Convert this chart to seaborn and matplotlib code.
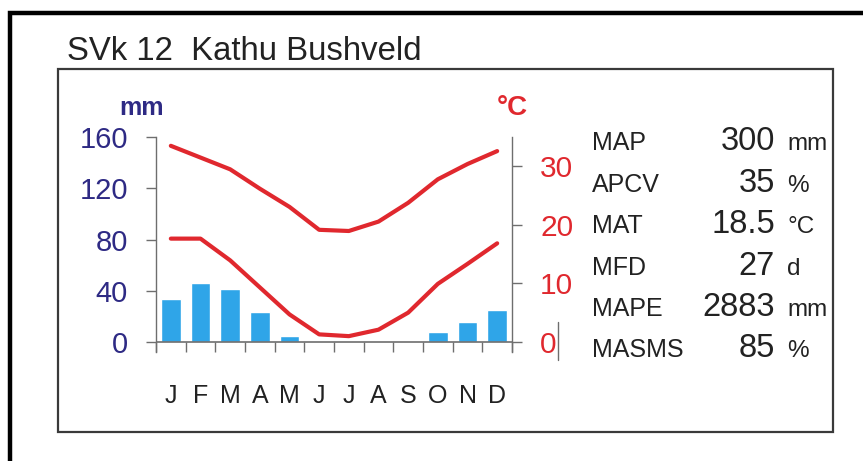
import numpy as np
import seaborn as sns
import matplotlib.pyplot as plt
from matplotlib.patches import Rectangle
from matplotlib.lines import Line2D

# climate data
months = ['J', 'F', 'M', 'A', 'M', 'J', 'J', 'A', 'S', 'O', 'N', 'D']
precip_mm = [33.3, 46.4, 41.7, 23.1, 4.5, 0, 0, 0, 0, 7.6, 15.7, 24.7]
tmax_c = [33.4, 31.4, 29.4, 26.1, 23.0, 19.1, 18.9, 20.5, 23.7, 27.7, 30.3, 32.5]
tmin_c = [17.6, 17.6, 13.9, 9.3, 4.7, 1.3, 1.0, 2.1, 5.0, 9.9, 13.3, 16.8]

mm_ticks = [0, 40, 80, 120, 160]
c_ticks = [0, 10, 20, 30]

stat_names = ['MAP', 'APCV', 'MAT', 'MFD', 'MAPE', 'MASMS']
stat_values = ['300', '35', '18.5', '27', '2883', '85']
stat_units = ['mm', '%', '°C', 'd', 'mm', '%']

title = 'SVk 12  Kathu Bushveld'

BLUE = '#2fa5e8'
RED = '#e0282e'
NAVY = '#2e2a84'
GRAY = '#6e6e6e'

W, H = 863, 461

sns.set_style('white')
plt.rcParams['font.family'] = ['Liberation Sans', 'DejaVu Sans']


def fx(x):
    return x / W


def fy(y):
    return 1 - y / H


fig = plt.figure(figsize=(W / 100, H / 100), dpi=100)

ax = fig.add_axes([fx(156), fy(352), (512 - 156) / W, (352 - 137) / H])
x = np.arange(len(months))
sns.barplot(x=x, y=precip_mm, native_scale=True, color=BLUE, saturation=1,
            width=0.67, ax=ax, zorder=2)
ax.axhline(0, color=GRAY, lw=1.2, zorder=3)
ax.set_xlim(-0.5, 11.5)
ax.set_ylim(-7.8, 160)
ax.set_yticks(mm_ticks)
ax.set_yticklabels([str(t) for t in mm_ticks])
ax.tick_params(axis='y', left=True, length=7.2, width=1, color=GRAY,
               labelcolor=NAVY, labelsize=21, pad=13)
ax.set_xticks(np.arange(-0.5, 12, 1))
ax.set_xticklabels([])
ax.set_xticks(x, minor=True)
ax.set_xticklabels(months, minor=True)
ax.tick_params(axis='x', which='major', bottom=True, direction='in',
               length=7.2, width=1, color=GRAY)
ax.tick_params(axis='x', which='minor', bottom=True, length=0, pad=23,
               labelsize=18, labelcolor='#222222')
for side in ['top', 'right', 'bottom']:
    ax.spines[side].set_visible(False)
ax.spines['left'].set_color(GRAY)
ax.spines['left'].set_linewidth(1)
ax.set_xlabel('')
ax.set_ylabel('')

ax2 = ax.twinx()
sns.lineplot(x=x, y=tmax_c, color=RED, linewidth=3, ax=ax2)
sns.lineplot(x=x, y=tmin_c, color=RED, linewidth=3, ax=ax2)
ax2.set_ylim(-1.7, 34.9)
ax2.set_yticks(c_ticks)
ax2.set_yticklabels([str(t) for t in c_ticks])
ax2.tick_params(axis='y', right=True, length=7.2, width=1, color=GRAY,
                labelcolor=RED, labelsize=21.5, pad=13)
for side in ['top', 'left', 'bottom']:
    ax2.spines[side].set_visible(False)
ax2.spines['right'].set_color(GRAY)
ax2.spines['right'].set_linewidth(1)
ax2.set_ylabel('')

# axis unit labels
fig.text(fx(141), fy(115), 'mm', color=NAVY, fontsize=18, fontweight='bold',
         ha='center', va='baseline')
fig.text(fx(512), fy(115), '°C', color=RED, fontsize=20, fontweight='bold',
         ha='center', va='baseline')

# title
fig.text(fx(67), fy(60), title, fontsize=23.7, color='#222222', ha='left',
         va='baseline')

# statistics block
rows_y = [150, 192, 233, 275, 316, 357]
for name, val, unit, yy in zip(stat_names, stat_values, stat_units, rows_y):
    fig.text(fx(592), fy(yy), name, fontsize=18, color='#222222',
             ha='left', va='baseline')
    fig.text(fx(775), fy(yy), val, fontsize=23.5, color='#222222',
             ha='right', va='baseline')
    fig.text(fx(787), fy(yy), unit, fontsize=17.5, color='#222222',
             ha='left', va='baseline')

# small stroke after the 0 label
fig.add_artist(Line2D([fx(558), fx(558)], [fy(322), fy(360)], color=GRAY, lw=1))

# frames
fig.add_artist(Rectangle((fx(58), fy(432)), (833 - 58) / W, (432 - 69) / H,
                         transform=fig.transFigure, fill=False,
                         edgecolor='#3a3a3a', lw=1.6))
fig.add_artist(Rectangle((fx(9.5), fy(480)), (900 - 9.5) / W, (480 - 13.5) / H,
                         transform=fig.transFigure, fill=False,
                         edgecolor='black', lw=3.2))

fig.savefig('out.png', dpi=100)
